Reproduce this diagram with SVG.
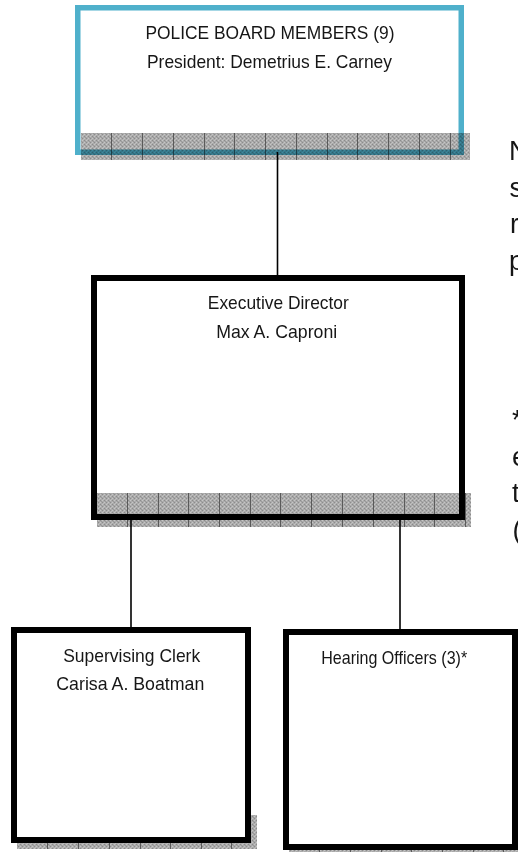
<svg xmlns="http://www.w3.org/2000/svg" width="518" height="852" viewBox="0 0 518 852">
  <defs>
    <pattern id="dither" patternUnits="userSpaceOnUse" width="4" height="4">
      <rect width="4" height="4" fill="#ababab"/>
      <rect x="0" y="0" width="1" height="1" fill="#8c8c8c"/>
      <rect x="2" y="2" width="1" height="1" fill="#8c8c8c"/>
      <rect x="2" y="0" width="1" height="1" fill="#c6c6c6"/>
      <rect x="0" y="2" width="1" height="1" fill="#c6c6c6"/>
      <rect x="1" y="1" width="1" height="1" fill="#9a9a9a"/>
      <rect x="3" y="3" width="1" height="1" fill="#bbbbbb"/>
    </pattern>
  </defs>
  <style>
    .box { fill: #ffffff; stroke: #000000; stroke-width: 6; }
    .boxblue { fill: #ffffff; stroke: #4fb0cb; stroke-width: 5.5; }
    .strip { fill: url(#dither); }
    .over { mix-blend-mode: multiply; }
    .grid { stroke: #5a5a5a; stroke-width: 1; fill: none; }
    .lbl { font-family: "Liberation Sans", Arial, sans-serif; font-size: 19px; fill: #161616; text-anchor: middle; }
    .side { font-family: "Liberation Sans", Arial, sans-serif; font-size: 27px; fill: #161616; }
    .conn { stroke: #000000; stroke-width: 1.6; fill: none; }
  </style>

  <g id="board">
    <rect class="boxblue" x="77.75" y="7.75" width="383.5" height="144.5"/>
    <g class="over">
      <rect class="strip" x="81" y="133" width="389" height="27"/>
      <path class="grid" d="M111.5 133v27M142.5 133v27M173.5 133v27M204.5 133v27M234.5 133v27M265.5 133v27M296.5 133v27M327.5 133v27M357.5 133v27M388.5 133v27M419.5 133v27M450.5 133v27"/>
    </g>
    <text class="lbl" x="270" y="39" textLength="249" lengthAdjust="spacingAndGlyphs">POLICE BOARD MEMBERS (9)</text>
    <text class="lbl" x="269.5" y="68" textLength="245" lengthAdjust="spacingAndGlyphs">President: Demetrius E. Carney</text>
  </g>

  <g id="executive">
    <rect class="box" x="94" y="278" width="368" height="239"/>
    <g class="over">
      <rect class="strip" x="97" y="493" width="374" height="34"/>
      <path class="grid" d="M127.5 493v34M158.5 493v34M188.5 493v34M219.5 493v34M250.5 493v34M280.5 493v34M311.5 493v34M342.5 493v34M373.5 493v34M404.5 493v34M434.5 493v34M465.5 493v34"/>
    </g>
    <text class="lbl" x="278.3" y="309" textLength="141" lengthAdjust="spacingAndGlyphs">Executive Director</text>
    <text class="lbl" x="276.7" y="338" textLength="121" lengthAdjust="spacingAndGlyphs">Max A. Caproni</text>
  </g>

  <g id="clerk">
    <rect class="strip" x="17" y="815" width="240" height="34"/>
    <path class="grid" d="M47.5 815v34M78.5 815v34M109.5 815v34M140.5 815v34M170.5 815v34M201.5 815v34M231.5 815v34"/>
    <rect class="box" x="14" y="630" width="234" height="210"/>
    <text class="lbl" x="131.7" y="662" textLength="137" lengthAdjust="spacingAndGlyphs">Supervising Clerk</text>
    <text class="lbl" x="130.3" y="690" textLength="148" lengthAdjust="spacingAndGlyphs">Carisa A. Boatman</text>
  </g>

  <g id="hearing">
    <rect class="strip" x="289" y="818" width="240" height="34"/>
    <path class="grid" d="M319.5 818v34M350.5 818v34M381.5 818v34M411.5 818v34M442.5 818v34M473.5 818v34M503.5 818v34"/>
    <rect class="box" x="286" y="632" width="229" height="215"/>
    <text class="lbl" x="394.2" y="664" textLength="146" lengthAdjust="spacingAndGlyphs">Hearing Officers (3)*</text>
  </g>

  <g id="note">
    <text class="side" x="509" y="160">N</text>
    <text class="side" x="509.5" y="196.5">s</text>
    <text class="side" x="510" y="233">r</text>
    <text class="side" x="509" y="269.5">p</text>
    <text class="side" x="512" y="429">*</text>
    <text class="side" x="512" y="466">e</text>
    <text class="side" x="512" y="502">t</text>
    <text class="side" x="512.5" y="538.5">(</text>
  </g>

  <g id="connectors">
    <line class="conn" x1="277.5" y1="152" x2="277.5" y2="275"/>
    <line class="conn" x1="131" y1="520" x2="131" y2="627"/>
    <line class="conn" x1="400" y1="520" x2="400" y2="629"/>
  </g>
</svg>
